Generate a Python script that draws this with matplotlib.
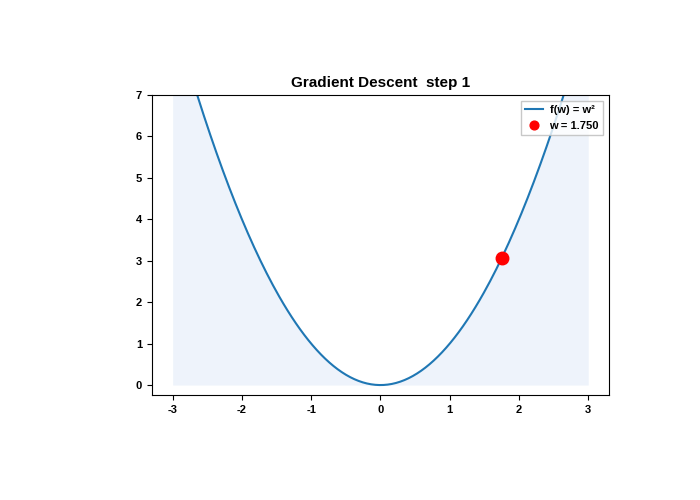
import numpy as np
import matplotlib
matplotlib.use("Agg")
import matplotlib.pyplot as plt

# --- data ---
w_min, w_max = -3.0, 3.0
w_grid = np.linspace(w_min, w_max, 200)
current_w = 1.75
step = 1
x_ticks = [-3, -2, -1, 0, 1, 2, 3]
y_ticks = [0, 1, 2, 3, 4, 5, 6, 7]


def f(w):
    return w ** 2


plt.rcParams['font.family'] = ['Liberation Sans', 'DejaVu Sans']
plt.rcParams['font.weight'] = 'bold'
plt.rcParams['axes.unicode_minus'] = False

fig = plt.figure(figsize=(7, 5), dpi=100)
ax = fig.add_axes([0.217, 0.21, 0.653, 0.60])

ax.fill_between(w_grid, 0, f(w_grid), color="#eef3fb", linewidth=0)
ax.plot(w_grid, f(w_grid), color="#1f77b4", lw=1.5, label="f(w) = w²")
ax.plot([current_w], [f(current_w)], "o", color="red", ms=9, label=f"w = {current_w:.3f}")

ax.set_xlim(-3.3, 3.3)
ax.set_ylim(-0.24, 7)
ax.set_xticks(x_ticks)
ax.set_yticks(y_ticks)
ax.tick_params(labelsize=8)
ax.set_title(f"Gradient Descent  step {step}", fontsize=11, fontweight="bold")

leg = ax.legend(loc="upper right", fontsize=8, markerscale=0.7, fancybox=False,
                borderaxespad=0.5, handlelength=1.6, handletextpad=0.6)
leg.get_frame().set_edgecolor("#bbbbbb")

fig.savefig("out.png")
